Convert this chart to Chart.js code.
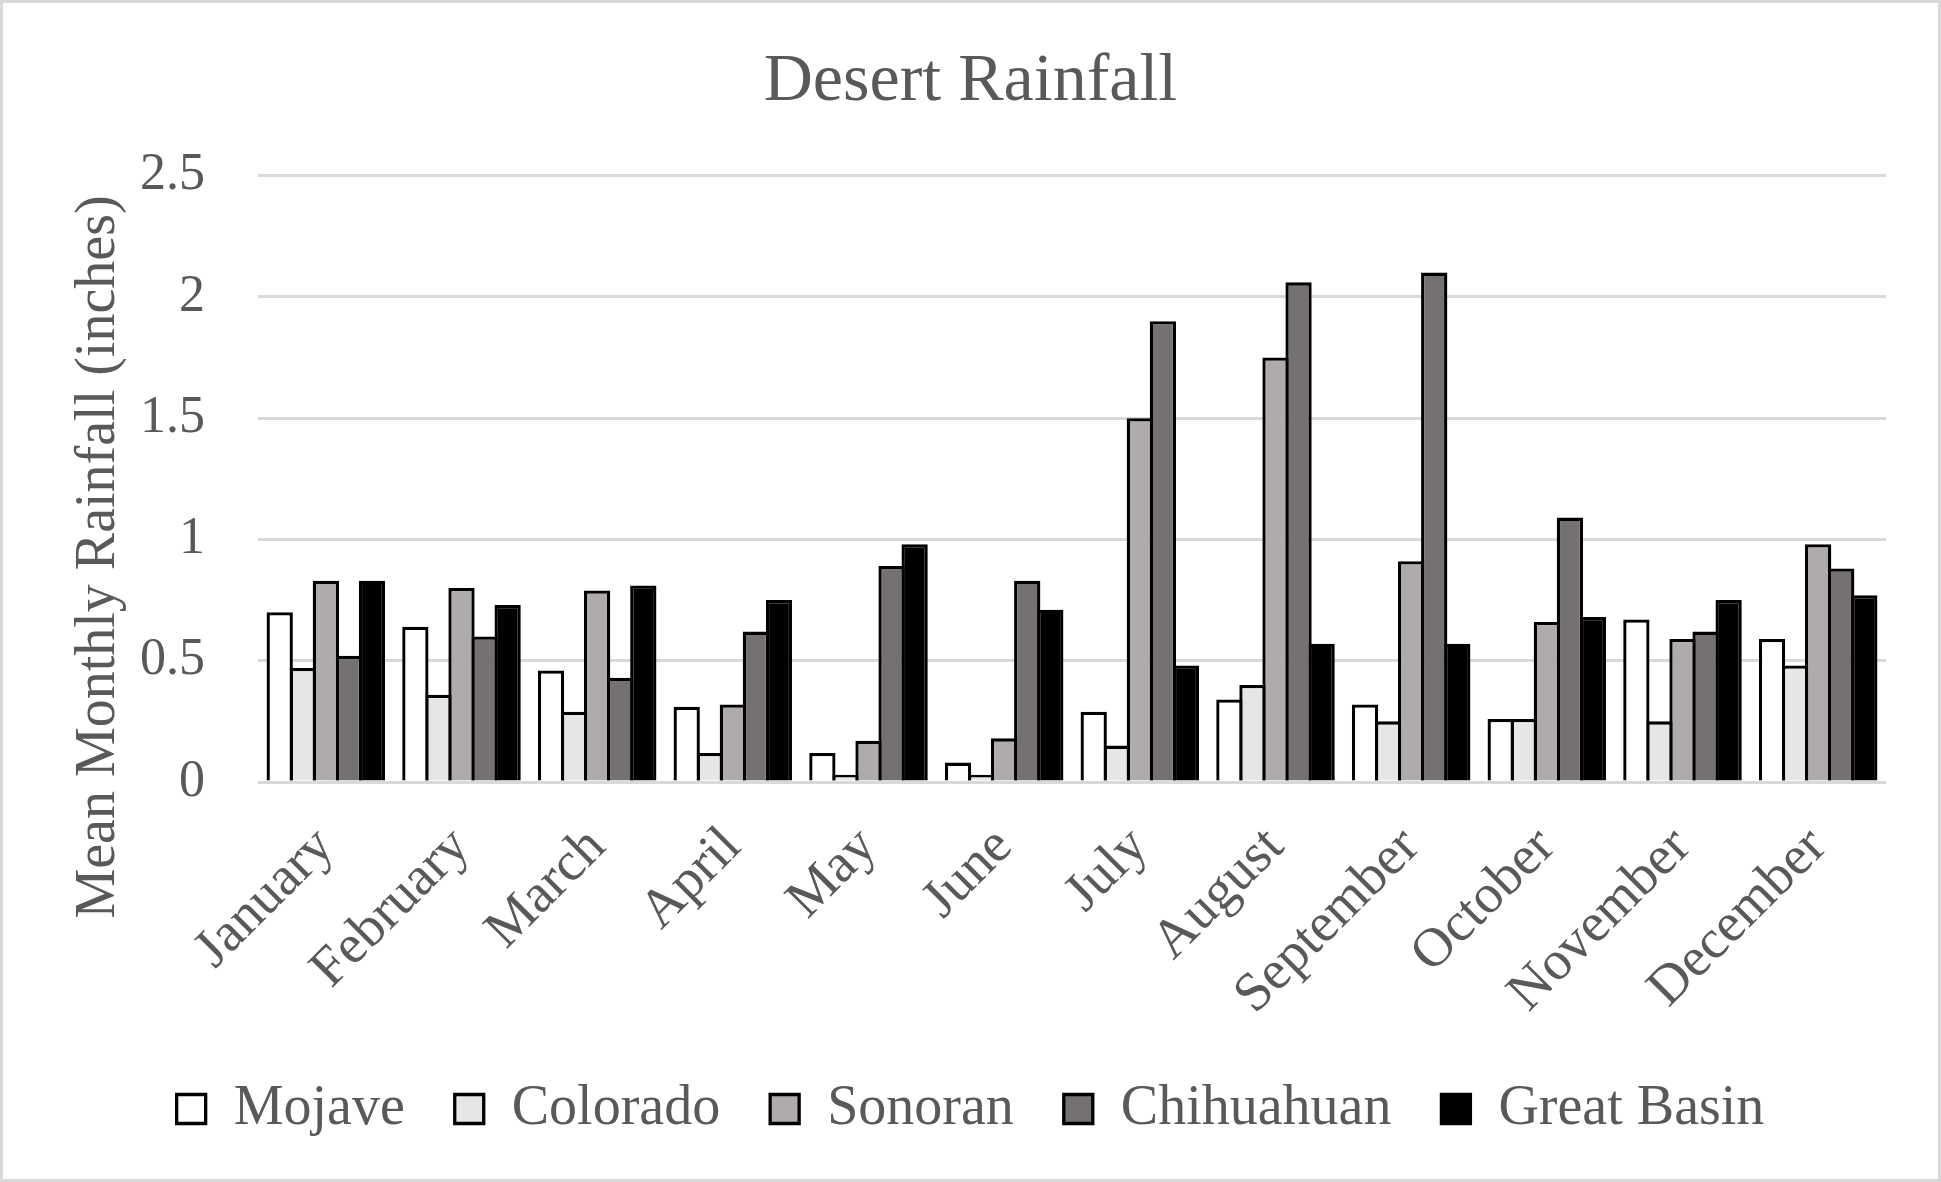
<!DOCTYPE html>
<html>
<head>
<meta charset="utf-8">
<script src="https://cdn.jsdelivr.net/npm/chart.js@4.4.1/dist/chart.umd.min.js"></script>
<style>
  html, body { margin: 0; padding: 0; background: #ffffff; }
  #wrap { position: relative; width: 1941px; height: 1182px; }
  #frame { position: absolute; left: 0; top: 0; width: 1941px; height: 1182px; box-sizing: border-box; border: 3px solid #d9d9d9; pointer-events: none; }
  canvas { display: block; }
</style>
</head>
<body>
<div id="wrap">
  <canvas id="c" width="1941" height="1182"></canvas>
  <div id="frame"></div>
</div>
<script>
const months = ["January","February","March","April","May","June","July","August","September","October","November","December"];
const seriesNames = ["Mojave","Colorado","Sonoran","Chihuahuan","Great Basin"];
const mojave     = [0.70, 0.64, 0.46, 0.31, 0.12, 0.08, 0.29, 0.34, 0.32, 0.26, 0.67, 0.59];
const colorado   = [0.47, 0.36, 0.29, 0.12, 0.03, 0.03, 0.15, 0.40, 0.25, 0.26, 0.25, 0.48];
const sonoran    = [0.83, 0.80, 0.79, 0.32, 0.17, 0.18, 1.50, 1.75, 0.91, 0.66, 0.59, 0.98];
const chihuahuan = [0.52, 0.60, 0.43, 0.62, 0.89, 0.83, 1.90, 2.06, 2.10, 1.09, 0.62, 0.88];
const greatBasin = [0.83, 0.73, 0.81, 0.75, 0.98, 0.71, 0.48, 0.57, 0.57, 0.68, 0.75, 0.77];
const chartTitle = "Desert Rainfall";
const yAxisTitle = "Mean Monthly Rainfall (inches)";
const yMin = 0, yMax = 2.5, yStep = 0.5;

const fills = ["#ffffff", "#e7e6e6", "#afabab", "#767171", "#000000"];
const values = [mojave, colorado, sonoran, chihuahuan, greatBasin];
const FONT = '"Liberation Serif", "Times New Roman", serif';
const TEXT = "#595959";

const yTitlePlugin = {
  id: 'yTitle',
  afterDraw(chart) {
    const ctx = chart.ctx;
    ctx.save();
    ctx.translate(99, 557);
    ctx.rotate(-Math.PI / 2);
    ctx.font = '56px ' + FONT;
    ctx.fillStyle = TEXT;
    ctx.textAlign = 'center';
    ctx.textBaseline = 'middle';
    ctx.fillText(yAxisTitle, 0, 0);
    ctx.restore();
  }
};

new Chart(document.getElementById('c'), {
  type: 'bar',
  data: {
    labels: months,
    datasets: seriesNames.map((n, i) => ({
      label: n,
      data: values[i],
      backgroundColor: fills[i],
      borderColor: "#000000",
      borderWidth: 3.3,
      categoryPercentage: 0.85,
      barPercentage: 1.14
    }))
  },
  options: {
    responsive: false,
    devicePixelRatio: 1,
    animation: false,
    layout: { padding: { left: 55, right: 55, top: 0, bottom: 35 } },
    plugins: {
      title: {
        display: true,
        text: chartTitle,
        color: TEXT,
        font: { family: FONT, size: 68, weight: 'normal' },
        padding: { top: 41, bottom: 53 }
      },
      legend: {
        position: 'bottom',
        labels: {
          color: TEXT,
          font: { family: FONT, size: 56 },
          boxWidth: 29,
          boxHeight: 29,
          padding: 50
        }
      },
      tooltip: { enabled: false }
    },
    scales: {
      x: {
        grid: { display: false, drawTicks: false },
        border: { display: false },
        ticks: {
          color: TEXT,
          font: { family: FONT, size: 55 },
          minRotation: 45,
          maxRotation: 45,
          autoSkip: false,
          padding: 33
        },
        afterFit(scale) { scale.height = 249; }
      },
      y: {
        min: yMin,
        max: yMax,
        ticks: {
          stepSize: yStep,
          color: TEXT,
          font: { family: FONT, size: 52 },
          padding: 53,
          callback: (v) => String(v)
        },
        grid: { color: "#d9d9d9", lineWidth: 3, drawTicks: false },
        border: { display: false },
        afterFit(scale) { scale.width = 203; }
      }
    }
  },
  plugins: [yTitlePlugin]
});
</script>
</body>
</html>
